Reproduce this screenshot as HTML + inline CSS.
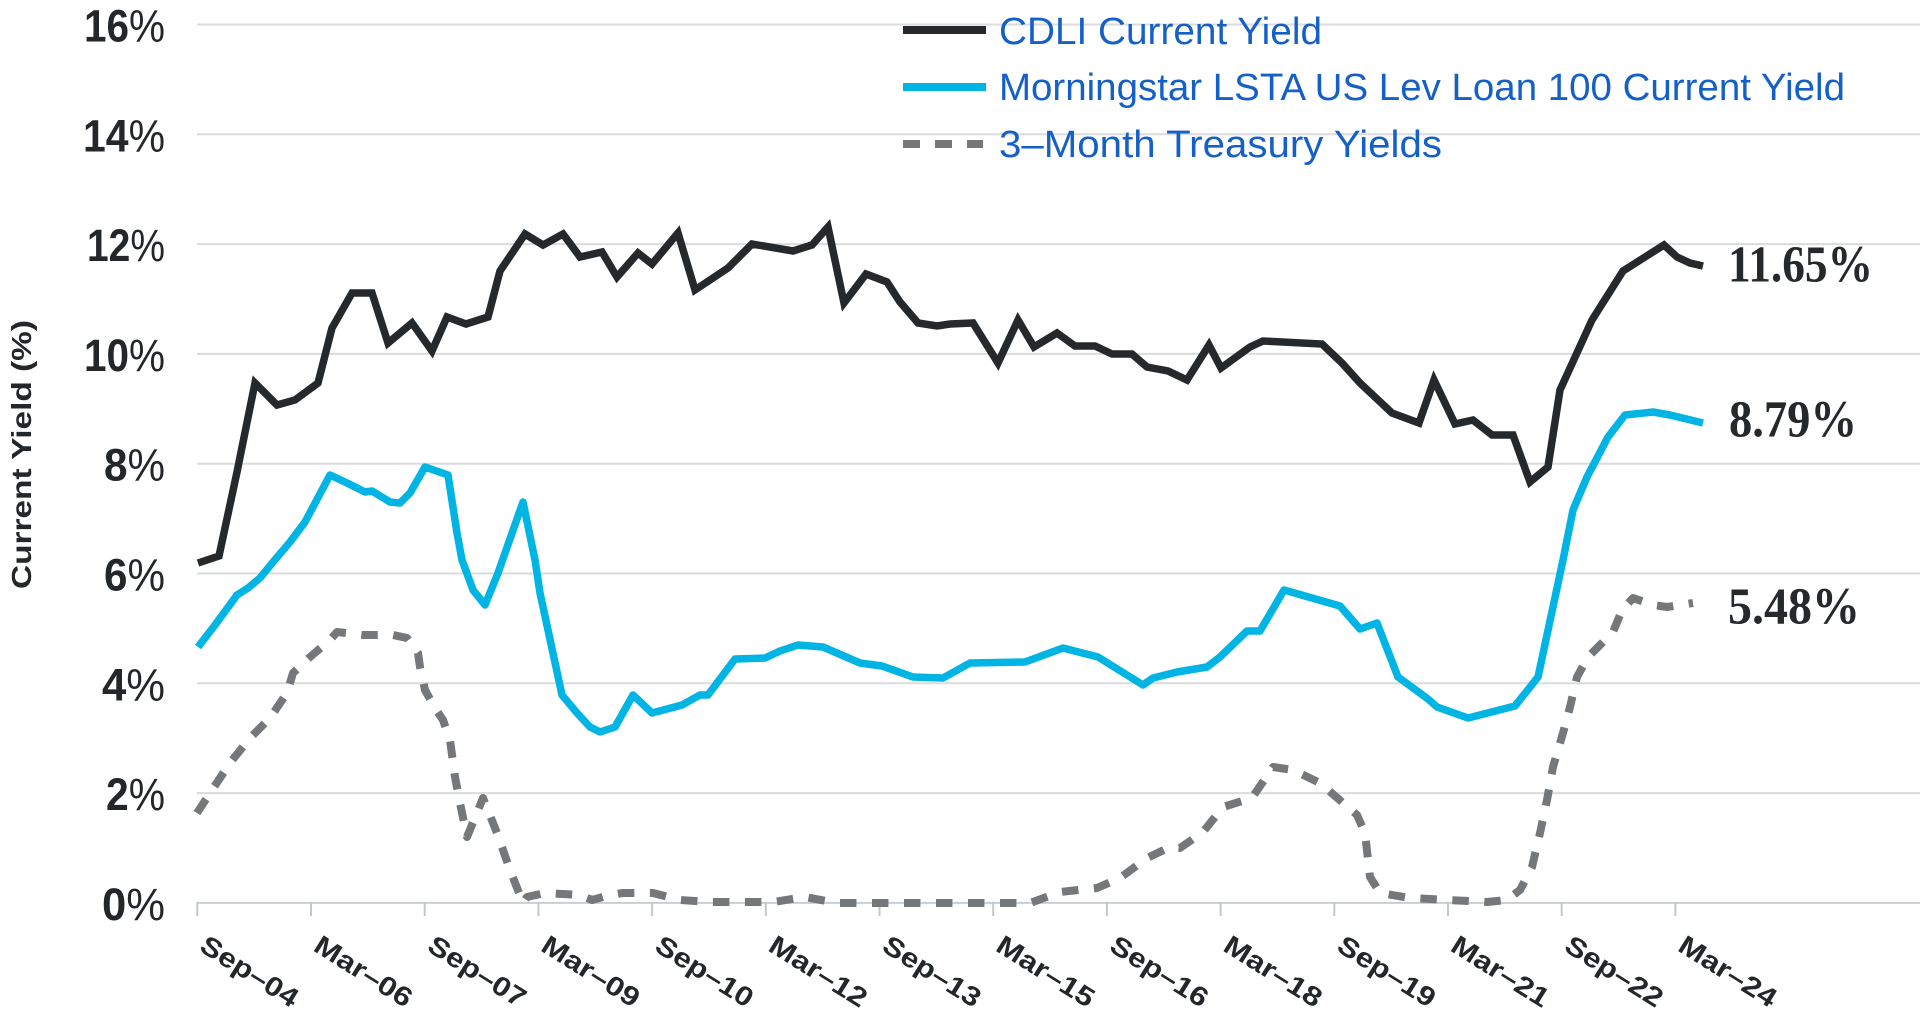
<!DOCTYPE html>
<html>
<head>
<meta charset="utf-8">
<style>
  html,body{margin:0;padding:0;background:#ffffff;}
  svg{display:block;}
  .yl{font-family:"Liberation Sans",Arial,sans-serif;font-size:45px;fill:#23272a;}
  .xl{font-family:"Liberation Sans",Arial,sans-serif;font-size:27px;font-weight:700;fill:#23272a;}
  .lg{font-family:"Liberation Sans",Arial,sans-serif;font-size:38px;fill:#1560c6;}
  .el{font-family:"Liberation Serif","DejaVu Serif",serif;font-size:52px;font-weight:700;fill:#25292c;}
  .yt{font-family:"Liberation Sans",Arial,sans-serif;font-size:28px;font-weight:700;fill:#23272a;}
</style>
</head>
<body>
<svg width="1920" height="1027" viewBox="0 0 1920 1027" xmlns="http://www.w3.org/2000/svg">
  <rect x="0" y="0" width="1920" height="1027" fill="#ffffff"/>

  <!-- gridlines -->
  <g stroke="#dadbdc" stroke-width="2">
    <line x1="197" y1="24.5" x2="1920" y2="24.5"/>
    <line x1="197" y1="134.3" x2="1920" y2="134.3"/>
    <line x1="197" y1="244.1" x2="1920" y2="244.1"/>
    <line x1="197" y1="353.9" x2="1920" y2="353.9"/>
    <line x1="197" y1="463.7" x2="1920" y2="463.7"/>
    <line x1="197" y1="573.5" x2="1920" y2="573.5"/>
    <line x1="197" y1="683.3" x2="1920" y2="683.3"/>
    <line x1="197" y1="793.1" x2="1920" y2="793.1"/>
  </g>
  <!-- x axis -->
  <line x1="197" y1="902.9" x2="1920" y2="902.9" stroke="#c9ced3" stroke-width="2"/>
  <g stroke="#c2c7cc" stroke-width="2">
    <line x1="197.3" y1="902" x2="197.3" y2="916"/>
    <line x1="311.0" y1="902" x2="311.0" y2="916"/>
    <line x1="424.7" y1="902" x2="424.7" y2="916"/>
    <line x1="538.4" y1="902" x2="538.4" y2="916"/>
    <line x1="652.1" y1="902" x2="652.1" y2="916"/>
    <line x1="765.8" y1="902" x2="765.8" y2="916"/>
    <line x1="879.5" y1="902" x2="879.5" y2="916"/>
    <line x1="993.2" y1="902" x2="993.2" y2="916"/>
    <line x1="1106.9" y1="902" x2="1106.9" y2="916"/>
    <line x1="1220.6" y1="902" x2="1220.6" y2="916"/>
    <line x1="1334.3" y1="902" x2="1334.3" y2="916"/>
    <line x1="1448.0" y1="902" x2="1448.0" y2="916"/>
    <line x1="1561.7" y1="902" x2="1561.7" y2="916"/>
    <line x1="1675.4" y1="902" x2="1675.4" y2="916"/>
  </g>

  <!-- y labels -->
  <text class="yl" x="165" y="41.5" text-anchor="end" textLength="81" lengthAdjust="spacingAndGlyphs"><tspan font-weight="700">16</tspan><tspan font-weight="400">%</tspan></text>
  <text class="yl" x="165" y="151.3" text-anchor="end" textLength="82" lengthAdjust="spacingAndGlyphs"><tspan font-weight="700">14</tspan><tspan font-weight="400">%</tspan></text>
  <text class="yl" x="165" y="261.1" text-anchor="end" textLength="78" lengthAdjust="spacingAndGlyphs"><tspan font-weight="700">12</tspan><tspan font-weight="400">%</tspan></text>
  <text class="yl" x="165" y="370.9" text-anchor="end" textLength="81" lengthAdjust="spacingAndGlyphs"><tspan font-weight="700">10</tspan><tspan font-weight="400">%</tspan></text>
  <text class="yl" x="165" y="480.7" text-anchor="end" textLength="61" lengthAdjust="spacingAndGlyphs"><tspan font-weight="700">8</tspan><tspan font-weight="400">%</tspan></text>
  <text class="yl" x="165" y="590.5" text-anchor="end" textLength="61" lengthAdjust="spacingAndGlyphs"><tspan font-weight="700">6</tspan><tspan font-weight="400">%</tspan></text>
  <text class="yl" x="165" y="700.3" text-anchor="end" textLength="63" lengthAdjust="spacingAndGlyphs"><tspan font-weight="700">4</tspan><tspan font-weight="400">%</tspan></text>
  <text class="yl" x="165" y="810.1" text-anchor="end" textLength="59" lengthAdjust="spacingAndGlyphs"><tspan font-weight="700">2</tspan><tspan font-weight="400">%</tspan></text>
  <text class="yl" x="165" y="919.9" text-anchor="end" textLength="63" lengthAdjust="spacingAndGlyphs"><tspan font-weight="700">0</tspan><tspan font-weight="400">%</tspan></text>

  <!-- y axis title -->
  <text class="yt" transform="translate(31,454.5) rotate(-90)" x="0" y="0" text-anchor="middle" textLength="269" lengthAdjust="spacingAndGlyphs">Current Yield (%)</text>

  <!-- x labels -->
  <g class="xl">
    <text transform="translate(198,950) rotate(32)" textLength="110" lengthAdjust="spacingAndGlyphs">Sep–04</text>
    <text transform="translate(312,950) rotate(32)" textLength="110" lengthAdjust="spacingAndGlyphs">Mar–06</text>
    <text transform="translate(425.7,950) rotate(32)" textLength="110" lengthAdjust="spacingAndGlyphs">Sep–07</text>
    <text transform="translate(539.4,950) rotate(32)" textLength="110" lengthAdjust="spacingAndGlyphs">Mar–09</text>
    <text transform="translate(653.1,950) rotate(32)" textLength="110" lengthAdjust="spacingAndGlyphs">Sep–10</text>
    <text transform="translate(766.8,950) rotate(32)" textLength="110" lengthAdjust="spacingAndGlyphs">Mar–12</text>
    <text transform="translate(880.5,950) rotate(32)" textLength="110" lengthAdjust="spacingAndGlyphs">Sep–13</text>
    <text transform="translate(994.2,950) rotate(32)" textLength="110" lengthAdjust="spacingAndGlyphs">Mar–15</text>
    <text transform="translate(1107.9,950) rotate(32)" textLength="110" lengthAdjust="spacingAndGlyphs">Sep–16</text>
    <text transform="translate(1221.6,950) rotate(32)" textLength="110" lengthAdjust="spacingAndGlyphs">Mar–18</text>
    <text transform="translate(1335.3,950) rotate(32)" textLength="110" lengthAdjust="spacingAndGlyphs">Sep–19</text>
    <text transform="translate(1449,950) rotate(32)" textLength="110" lengthAdjust="spacingAndGlyphs">Mar–21</text>
    <text transform="translate(1562.7,950) rotate(32)" textLength="110" lengthAdjust="spacingAndGlyphs">Sep–22</text>
    <text transform="translate(1676.4,950) rotate(32)" textLength="110" lengthAdjust="spacingAndGlyphs">Mar–24</text>
  </g>

  <!-- 3-month treasury (dashed) -->
  <polyline fill="none" stroke="#75787b" stroke-width="8" stroke-dasharray="16.5 15.5" stroke-linejoin="round"
    points="197,813 212,790 230,763 250,738 270,718 287,693 293,673 310,657 330,640 337,632 363,635 393,635 407,638 418,653 420,667 425,690 435,708 443,720 450,740 455,777 460,803 467,837 483,798 497,833 510,870 523,903 527,897 545,893 580,895 592,900 610,895 623,893 653,893 680,900 710,902 773,902 805,897 837,903 1030,903 1060,892 1097,888 1120,878 1147,858 1170,847 1180,848 1203,832 1223,807 1252,798 1273,767 1293,770 1320,783 1357,815 1365,833 1370,877 1380,893 1410,898 1487,902 1507,900 1520,890 1532,867 1540,833 1547,800 1553,767 1563,733 1570,707 1577,677 1588,657 1600,645 1613,632 1622,610 1633,598 1653,605 1667,607 1693,603"/>

  <!-- Morningstar LSTA (blue) -->
  <polyline fill="none" stroke="#00b4e4" stroke-width="7.5" stroke-linejoin="round"
    points="198,647 215,625 237,595 248,588 260,578 273,562 290,542 305,522 330,475 347,483 365,492 372,491 390,502 400,503 410,493 425,467 448,475 457,533 462,560 473,590 485,605 498,573 523,502 535,560 540,593 562,695 577,713 590,727 600,732 615,727 633,695 652,713 682,705 700,695 708,695 735,659 765,658 780,651 798,645 823,647 860,663 882,666 913,677 943,678 970,663 1025,662 1063,648 1098,657 1143,685 1153,678 1177,672 1207,667 1220,657 1247,631 1260,631 1284,590 1340,606 1360,629 1377,623 1398,677 1428,699 1437,707 1468,718 1515,706 1538,677 1563,560 1573,510 1587,477 1608,437 1625,415 1653,412 1670,415 1703,423"/>

  <!-- CDLI (black) -->
  <polyline fill="none" stroke="#25292c" stroke-width="7.5" stroke-linejoin="miter" stroke-miterlimit="6"
    points="198,563 219,556 237,472 255,383 277,405 295,400 318,383 332,328 352,293 372,293 388,343 412,323 432,351 447,317 466,324 488,317 500,271 525,234 543,245 563,234 580,257 602,252 617,277 638,253 652,264 678,233 695,290 728,268 752,244 793,251 812,245 828,227 844,303 866,274 887,282 900,302 918,323 937,326 950,324 973,323 998,363 1018,320 1034,347 1057,333 1075,346 1095,346 1112,354 1132,354 1147,367 1168,371 1187,380 1209,345 1221,368 1250,347 1263,341 1322,344 1342,363 1360,383 1392,413 1419,423 1434,380 1455,424 1473,420 1492,435 1513,435 1530,482 1548,467 1560,390 1592,320 1623,271 1664,245 1677,257 1690,263 1703,266"/>

  <!-- end labels -->
  <text class="el" x="1728" y="281.7" textLength="145" lengthAdjust="spacingAndGlyphs">11.65%</text>
  <text class="el" x="1729" y="436.7" textLength="128" lengthAdjust="spacingAndGlyphs">8.79%</text>
  <text class="el" x="1728" y="623.3" textLength="132" lengthAdjust="spacingAndGlyphs">5.48%</text>

  <!-- legend -->
  <line x1="903" y1="30" x2="986" y2="30" stroke="#25292c" stroke-width="8"/>
  <line x1="903" y1="87" x2="986" y2="87" stroke="#00b4e4" stroke-width="8"/>
  <g stroke="#75787b" stroke-width="8">
    <line x1="903" y1="144" x2="920" y2="144"/>
    <line x1="935" y1="144" x2="952" y2="144"/>
    <line x1="967" y1="144" x2="983" y2="144"/>
  </g>
  <text class="lg" x="999" y="44" textLength="323" lengthAdjust="spacingAndGlyphs">CDLI Current Yield</text>
  <text class="lg" x="999" y="100" textLength="846" lengthAdjust="spacingAndGlyphs">Morningstar LSTA US Lev Loan 100 Current Yield</text>
  <text class="lg" x="999" y="157" textLength="443" lengthAdjust="spacingAndGlyphs">3–Month Treasury Yields</text>
</svg>
</body>
</html>
